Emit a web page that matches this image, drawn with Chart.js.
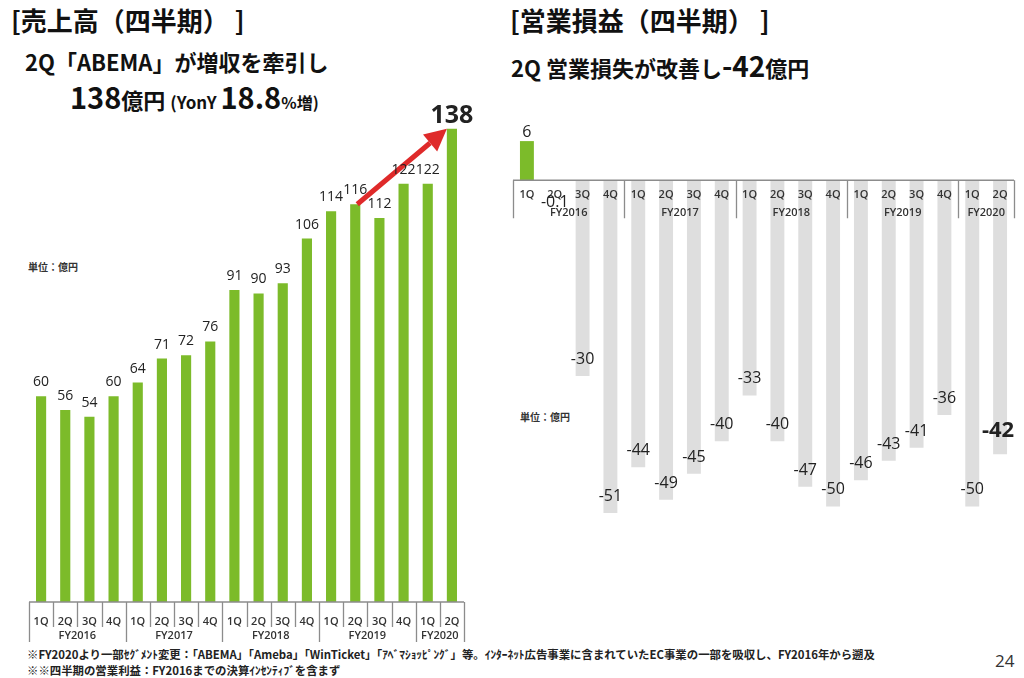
<!DOCTYPE html>
<html lang="ja">
<head>
<meta charset="utf-8">
<script src="https://cdn.jsdelivr.net/npm/chart.js@4.4.0/dist/chart.umd.min.js"></script>
<style>
  body { margin: 0; width: 1024px; height: 678px; background: #fff; position: relative; overflow: hidden;
         font-family: "Noto Sans CJK JP", "Noto Sans", sans-serif; color: #111; }
  .abs { position: absolute; white-space: nowrap; }
  .title { font-size: 26px; font-weight: 700; line-height: 1; }
  .sub { font-size: 22px; font-weight: 700; line-height: 1; }
  .unit { font-size: 10px; font-weight: 700; color: #333; }
  .note { font-size: 11.4px; font-weight: 700; color: #222; line-height: 1; }
  canvas { position: absolute; }
</style>
</head>
<body>
<div class="abs title" style="left:11px;top:7px;">[売上高（四半期） ]</div>
<div class="abs sub" style="left:25px;top:50px;">2Q「ABEMA」が増収を牽引し</div>
<div class="abs sub" style="left:70px;top:82px;"><span style="font-size:29px;">138</span>億円 <span style="font-size:17px;">(YonY </span><span style="font-size:29px;">18.8</span><span style="font-size:16px;">%増)</span></div>
<div class="abs unit" style="left:28px;top:259px;">単位：億円</div>

<div class="abs title" style="left:510px;top:7px;">[営業損益（四半期） ]</div>
<div class="abs sub" style="left:511px;top:51px;">2Q 営業損失が改善し<span style="font-size:28px;">-42</span>億円</div>
<div class="abs unit" style="left:520px;top:409px;">単位：億円</div>

<div class="abs note" style="left:27px;top:649px;">※FY2020より一部ｾｸﾞﾒﾝﾄ変更：「ABEMA」「Ameba」「WinTicket」「ｱﾍﾞﾏｼｮｯﾋﾟﾝｸﾞ」等。ｲﾝﾀｰﾈｯﾄ広告事業に含まれていたEC事業の一部を吸収し、FY2016年から遡及</div>
<div class="abs note" style="left:27px;top:665px;">※※四半期の営業利益：FY2016までの決算ｲﾝｾﾝﾃｨﾌﾞを含まず</div>
<div class="abs" style="left:995px;top:649px;font-family:'Open Sans';font-size:17px;color:#333;">24</div>

<canvas id="salesChart" width="480" height="570" style="left:0;top:90px;"></canvas>
<canvas id="profitChart" width="524" height="440" style="left:500px;top:100px;"></canvas>

<script>
// ======================
// DATA
// ======================
const quarters = ['1Q','2Q','3Q','4Q','1Q','2Q','3Q','4Q','1Q','2Q','3Q','4Q','1Q','2Q','3Q','4Q','1Q','2Q'];
const fiscalYears = ['FY2016','FY2017','FY2018','FY2019','FY2020'];
const quartersPerYear = [4, 4, 4, 4, 2];
const salesValues = [60, 56, 54, 60, 64, 71, 72, 76, 91, 90, 93, 106, 114, 116, 112, 122, 122, 138];
const profitValues = [6, -0.1, -30, -51, -44, -49, -45, -40, -33, -40, -47, -50, -46, -43, -41, -36, -50, -42];
const salesRange = [0, 140];
const profitRange = [-55, 10];

const GREEN = '#7cbb2a';
const GRAY_BAR = '#dedede';
const LINE = '#8c8c8c';
const NUM_FONT = "'Open Sans', 'DejaVu Sans', sans-serif";

// ======================
// PLUGINS
// ======================
// two-level category box under the zero line (quarters + fiscal years)
const groupAxis = {
  id: 'groupAxis',
  afterDatasetsDraw(chart, args, opts) {
    const ctx = chart.ctx;
    const x = chart.scales.x;
    const zero = chart.scales.y.getPixelForValue(0);
    const step = x.width / quarters.length;
    const edge = i => x.getPixelForValue(i) - step / 2;

    ctx.save();
    ctx.strokeStyle = LINE;
    ctx.lineWidth = 1.3;
    ctx.beginPath();
    ctx.moveTo(edge(0), zero);
    ctx.lineTo(edge(quarters.length), zero);
    if (opts.quarterLines) {
      for (let i = 0; i <= quarters.length; i++) {
        ctx.moveTo(Math.round(edge(i)) + 0.5, zero);
        ctx.lineTo(Math.round(edge(i)) + 0.5, zero + opts.quarterLen);
      }
    }
    let idx = 0;
    ctx.moveTo(Math.round(edge(0)) + 0.5, zero);
    ctx.lineTo(Math.round(edge(0)) + 0.5, zero + opts.yearLen);
    quartersPerYear.forEach(n => {
      idx += n;
      ctx.moveTo(Math.round(edge(idx)) + 0.5, zero);
      ctx.lineTo(Math.round(edge(idx)) + 0.5, zero + opts.yearLen);
    });
    ctx.stroke();

    ctx.fillStyle = '#333';
    ctx.textAlign = 'center';
    ctx.textBaseline = 'middle';
    ctx.font = '600 11px ' + NUM_FONT;
    quarters.forEach((q, i) => ctx.fillText(q, x.getPixelForValue(i), zero + opts.quarterY));
    idx = 0;
    fiscalYears.forEach((fy, k) => {
      const mid = (edge(idx) + edge(idx + quartersPerYear[k])) / 2;
      ctx.fillText(fy, mid, zero + opts.yearY);
      idx += quartersPerYear[k];
    });
    ctx.restore();
  }
};

// value labels on the bars
const barLabels = {
  id: 'barLabels',
  afterDatasetsDraw(chart, args, opts) {
    const ctx = chart.ctx;
    const meta = chart.getDatasetMeta(0);
    const values = chart.data.datasets[0].data;
    const last = values.length - 1;
    ctx.save();
    ctx.fillStyle = '#222';
    ctx.textAlign = 'center';
    ctx.textBaseline = 'alphabetic';
    meta.data.forEach((bar, i) => {
      const v = values[i];
      const big = i === last;
      ctx.font = (big ? '700 ' + opts.bigSize : '400 ' + opts.size) + 'px ' + NUM_FONT;
      let y;
      if (Math.abs(v) < 1) {
        y = bar.base + 27;           // near-zero value goes under the axis line
      } else if (v >= 0) {
        y = bar.y - (big ? opts.bigGapUp : opts.gapUp);
      } else {
        y = bar.y - (big ? opts.bigGapDown : opts.gapDown);
      }
      ctx.fillText(String(v), bar.x + (big ? opts.bigShift : 0), y);
    });
    ctx.restore();
  }
};

// red growth arrow, 2Q FY2019 -> 2Q FY2020
const growthArrow = {
  id: 'growthArrow',
  afterDatasetsDraw(chart) {
    const meta = chart.getDatasetMeta(0);
    const from = meta.data[13];
    const to = meta.data[17];
    const x1 = from.x + 2, y1 = from.y;
    const x2 = to.x - 5, y2 = to.y;
    const ang = Math.atan2(y2 - y1, x2 - x1);
    const head = 22, half = 11;
    const bx = x2 - head * Math.cos(ang), by = y2 - head * Math.sin(ang);
    const ctx = chart.ctx;
    ctx.save();
    ctx.strokeStyle = '#df2a2a';
    ctx.fillStyle = '#df2a2a';
    ctx.lineWidth = 5;
    ctx.beginPath();
    ctx.moveTo(x1, y1);
    ctx.lineTo(bx, by);
    ctx.stroke();
    ctx.beginPath();
    ctx.moveTo(x2, y2);
    ctx.lineTo(bx + half * Math.sin(ang), by - half * Math.cos(ang));
    ctx.lineTo(bx - half * Math.sin(ang), by + half * Math.cos(ang));
    ctx.closePath();
    ctx.fill();
    ctx.restore();
  }
};

function baseOptions(range, padding, barPct) {
  return {
    responsive: false,
    animation: false,
    layout: { padding },
    datasets: { bar: { categoryPercentage: 1, barPercentage: barPct } },
    scales: {
      x: { display: false },
      y: { display: false, min: range[0], max: range[1] }
    },
    plugins: { legend: { display: false }, tooltip: { enabled: false } }
  };
}

// ======================
// SALES CHART (left)
// ======================
const salesOpts = baseOptions(salesRange, { left: 29, right: 16, top: 32, bottom: 58 }, 0.42);
salesOpts.plugins.groupAxis = { quarterLines: true, quarterLen: 25, yearLen: 40, quarterY: 20, yearY: 34 };
salesOpts.plugins.barLabels = { size: 14, bigSize: 25, gapUp: 10, bigGapUp: 6, gapDown: 0, bigGapDown: 0, bigShift: 0 };

new Chart(document.getElementById('salesChart'), {
  type: 'bar',
  data: {
    labels: quarters,
    datasets: [{ data: salesValues, backgroundColor: GREEN, borderWidth: 0 }]
  },
  options: salesOpts,
  plugins: [groupAxis, growthArrow, barLabels]
});

// ======================
// OPERATING PROFIT CHART (right)
// ======================
const profitOpts = baseOptions(profitRange, { left: 13, right: 10, top: 15, bottom: 1 }, 0.5);
profitOpts.plugins.groupAxis = { quarterLines: false, quarterLen: 0, yearLen: 38, quarterY: 15, yearY: 33 };
profitOpts.plugins.barLabels = { size: 16, bigSize: 22, gapUp: 4, bigGapUp: 4, gapDown: 12, bigGapDown: 17, bigShift: -2 };

new Chart(document.getElementById('profitChart'), {
  type: 'bar',
  data: {
    labels: quarters,
    datasets: [{
      data: profitValues,
      backgroundColor: profitValues.map(v => v > 0 ? GREEN : GRAY_BAR),
      borderWidth: 0
    }]
  },
  options: profitOpts,
  plugins: [groupAxis, barLabels]
});
</script>
</body>
</html>
